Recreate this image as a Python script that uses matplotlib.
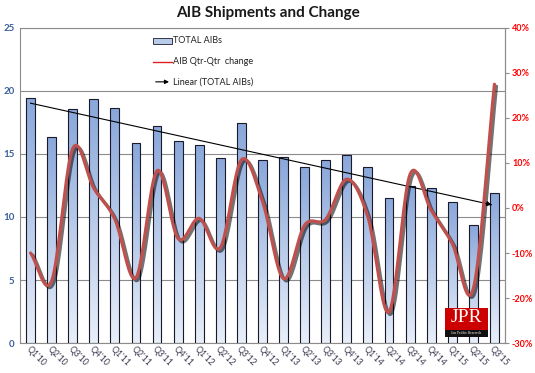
import numpy as np
import matplotlib
matplotlib.use("Agg")
import matplotlib.pyplot as plt
import matplotlib.patheffects as pe
from matplotlib.colors import LinearSegmentedColormap
from matplotlib.patches import Rectangle
from matplotlib.ticker import FuncFormatter

plt.rcParams['font.family'] = ['Lato', 'DejaVu Sans']

# data
quarters = ["Q1'10", "Q2'10", "Q3'10", "Q4'10", "Q1'11", "Q2'11", "Q3'11", "Q4'11",
            "Q1'12", "Q2'12", "Q3'12", "Q4'12", "Q1'13", "Q2'13", "Q3'13", "Q4'13",
            "Q1'14", "Q2'14", "Q3'14", "Q4'14", "Q1'15", "Q2'15", "Q3'15"]
total_aibs = [19.42, 16.37, 18.55, 19.34, 18.63, 15.85, 17.2, 16.0, 15.71, 14.71, 17.44, 14.5,
              14.76, 13.94, 14.5, 14.9, 13.94, 11.53, 12.46, 12.28, 11.21, 9.37, 11.9]
qoq_change = [-10.0, -16.2, 13.2, 4.4, -2.5, -15.5, 8.3, -6.8, -2.3, -8.8, 10.7, 1.5,
              -15.7, -3.8, -2.5, 6.4, -2.0, -23.1, 7.5, -0.5, -7.9, -17.9, 27.5]


def smooth(xs, ys, n=20):
    # catmull-rom style curve like Excel's "smoothed line"
    xs = np.asarray(xs, float); ys = np.asarray(ys, float)
    px = np.concatenate([[2*xs[0]-xs[1]], xs, [2*xs[-1]-xs[-2]]])
    py = np.concatenate([[2*ys[0]-ys[1]], ys, [2*ys[-1]-ys[-2]]])
    ox, oy = [], []
    t = np.linspace(0, 1, n, endpoint=False)
    for i in range(1, len(px)-2):
        for p, o in ((px, ox), (py, oy)):
            p0, p1, p2, p3 = p[i-1], p[i], p[i+1], p[i+2]
            o.extend(0.5*((2*p1) + (-p0+p2)*t + (2*p0-5*p1+4*p2-p3)*t**2 + (-p0+3*p1-3*p2+p3)*t**3))
    ox.append(xs[-1]); oy.append(ys[-1])
    return np.array(ox), np.array(oy)


x = np.arange(len(quarters))
grid_c = '#8c8c8c'

fig = plt.figure(figsize=(5.35, 3.73), dpi=100)
ax = fig.add_axes([0.0374, 0.0804, 0.9065, 0.8446])
ax2 = ax.twinx()

# gradient bars
bars = ax.bar(x, total_aibs, width=0.42, facecolor='none', edgecolor='#1a1a2a', lw=0.8, zorder=3)
cmap = LinearSegmentedColormap.from_list('g', ['#e8eff9', '#89a7da'])
grad = np.linspace(0, 1, 256).reshape(-1, 1)
for b in bars:
    x0, y0 = b.get_xy()
    im = ax.imshow(grad, extent=[x0, x0+b.get_width(), y0, y0+b.get_height()], origin='lower',
                   cmap=cmap, aspect='auto', zorder=2)
    im.set_clip_path(b)

# linear trend
k, c = np.polyfit(x, total_aibs, 1)
ax.plot([x[0], x[-1]-0.15], [c, k*(x[-1]-0.15)+c], color='k', lw=0.8, zorder=4)
ax.annotate('', xy=(x[-1], k*x[-1]+c), xytext=(x[-1]-0.3, k*(x[-1]-0.3)+c),
            arrowprops=dict(arrowstyle='-|>', color='k', lw=0.8, mutation_scale=7), zorder=4)

ax.set_xlim(-0.5, len(quarters)-0.5)
ax.set_ylim(0, 25)
ax.set_yticks([0, 5, 10, 15, 20, 25])
ax.grid(axis='y', color=grid_c, lw=0.8, zorder=0)
ax.set_axisbelow(True)
ax.set_xticks(x)
ax.set_xticklabels(quarters, rotation=-45, ha='left', rotation_mode='anchor',
                   fontsize=6.3, color='#3a3a50')
ax.tick_params(axis='x', length=0, pad=1)
ax.tick_params(axis='y', length=0, labelsize=7, labelcolor='#3a5f9a', pad=4)
for t in ax.get_yticklabels():
    t.set_fontweight('bold')
for s in ax.spines.values():
    s.set_color(grid_c)
    s.set_linewidth(0.8)

# qtr-qtr change, smoothed with shadow
sx, sy = smooth(x, qoq_change)
ax2.plot(sx, sy, color='#c0504d', lw=2.3, solid_capstyle='round', zorder=5,
         path_effects=[pe.SimpleLineShadow(offset=(1.5, -1.5), shadow_color='k', alpha=0.55),
                       pe.Normal()])
ax2.set_ylim(-30, 40)
ax2.set_yticks(range(-30, 41, 10))
ax2.yaxis.set_major_formatter(FuncFormatter(lambda v, p: f'{v:.0f}%'))
ax2.tick_params(axis='y', length=3, color=grid_c, labelsize=6.5, labelcolor='#ff0000', pad=2)
for t in ax2.get_yticklabels():
    t.set_fontweight('bold')
for s in ax2.spines.values():
    s.set_visible(False)
ax2.spines['right'].set_visible(True)
ax2.spines['right'].set_color(grid_c)
ax2.spines['right'].set_linewidth(0.8)

# legend drawn by hand
lx0, lx1, tx = 0.274, 0.313, 0.316
ax.add_patch(Rectangle((lx0, 0.950), lx1-lx0, 0.019, transform=ax.transAxes,
                       facecolor='#b8cbe8', edgecolor='#1a1a2a', lw=0.6, zorder=6))
ax.text(tx, 0.959, 'TOTAL AIBs', transform=ax.transAxes, fontsize=6.5, va='center', color='#222222')
ax.plot([lx0, lx1], [0.892, 0.892], transform=ax.transAxes, color='#e02020', lw=1, zorder=6)
ax.text(tx, 0.892, 'AIB Qtr-Qtr  change', transform=ax.transAxes, fontsize=6.5, va='center', color='#222222')
ax.annotate('', xy=(lx1, 0.829), xytext=(lx0, 0.829), xycoords='axes fraction',
            arrowprops=dict(arrowstyle='-|>', color='k', lw=0.8, mutation_scale=6))
ax.text(tx, 0.829, 'Linear (TOTAL AIBs)', transform=ax.transAxes, fontsize=6.5, va='center', color='#222222')

fig.text(0.5, 0.965, 'AIB Shipments and Change', ha='center', va='center',
         fontsize=11, fontweight='bold', color='#1a1a1a')

# JPR badge
fig.patches.append(Rectangle((0.832, 0.0965), 0.0804, 0.0777, transform=fig.transFigure,
                             facecolor='#cc0000', edgecolor='none', zorder=10))
fig.patches.append(Rectangle((0.832, 0.0965), 0.0804, 0.019, transform=fig.transFigure,
                             facecolor='#111111', edgecolor='none', zorder=11))
fig.text(0.872, 0.150, 'JPR', ha='center', va='center', fontsize=14, color='white',
         family='Liberation Serif', zorder=12)
fig.text(0.872, 0.106, 'Jon Peddie Research', ha='center', va='center', fontsize=2.6,
         color='white', family='Liberation Serif', zorder=12)

fig.savefig('out.png', dpi=100)
